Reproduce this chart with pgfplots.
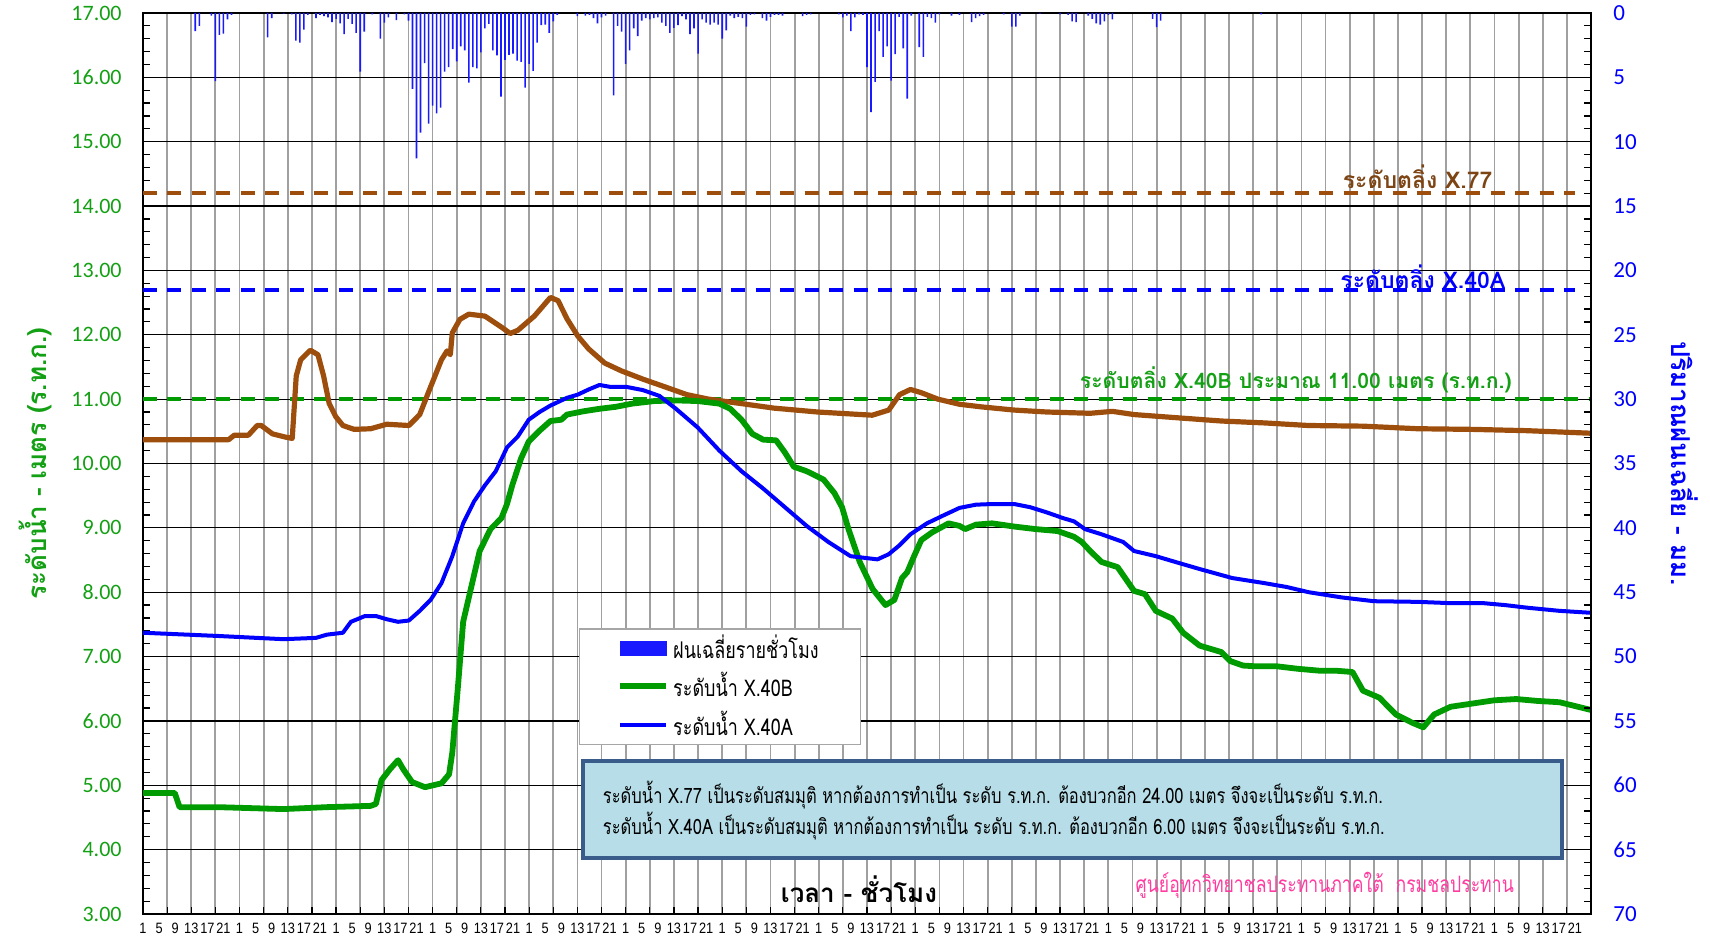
\documentclass[border=0pt]{standalone}
\usepackage{pgfplots}
\usepackage{pgfplotstable}
\pgfplotsset{compat=1.18}
\usepackage{fontspec}
\setmainfont{Carlito}
\newfontfamily\thaifont[Script=Thai]{Loma}
\newfontfamily\thaicond[Script=Thai,FakeStretch=0.78]{Loma}
\newfontfamily\narrowfont[FakeStretch=0.85]{Liberation Sans}
\definecolor{lgreen}{RGB}{0,155,0}
\definecolor{tgreen}{RGB}{20,160,20}
\definecolor{lbrown}{RGB}{158,78,12}
\definecolor{tbrown}{RGB}{125,68,20}
\definecolor{lblue}{RGB}{0,0,255}
\definecolor{rainblue}{RGB}{25,25,255}
\definecolor{pinktxt}{RGB}{255,60,160}
\definecolor{boxfill}{RGB}{183,222,232}
\definecolor{boxedge}{RGB}{58,92,138}
\definecolor{gridgray}{RGB}{160,160,160}

\pgfplotstableread{
h v
0 10.37
21.3 10.37
22.7 10.44
26.2 10.44
28.4 10.59
29.4 10.59
32.2 10.46
35.4 10.41
37.1 10.39
38.1 11.36
39.2 11.61
41.6 11.76
43.5 11.69
44.9 11.36
46.3 10.93
47.9 10.73
49.7 10.59
52.5 10.53
56.6 10.54
60.6 10.61
66.1 10.59
68.8 10.76
71.5 11.19
74.2 11.61
75.6 11.75
76.4 11.69
76.9 12.03
78.8 12.24
81.0 12.32
85.0 12.29
89.1 12.12
91.3 12.02
93.2 12.07
97.3 12.29
101.3 12.58
103.2 12.53
105.4 12.25
108.1 11.98
110.8 11.78
114.8 11.56
118.9 11.44
124.3 11.31
129.8 11.19
135.2 11.07
140.6 11.00
148.8 10.93
156.9 10.86
167.7 10.80
181.3 10.75
185.4 10.83
188.1 11.07
190.8 11.15
193.5 11.10
197.6 11.00
203.0 10.92
208.4 10.88
216.6 10.83
224.7 10.80
235.5 10.78
241.0 10.81
246.4 10.76
257.2 10.71
268.1 10.66
278.9 10.63
289.8 10.59
303.3 10.58
316.9 10.54
330.5 10.53
344.0 10.51
360 10.47
}\tabX

\pgfplotstableread{
h v
0 4.88
7.9 4.88
9.1 4.66
18.6 4.66
34.9 4.63
45.7 4.66
56.6 4.68
57.9 4.71
59.3 5.08
61.4 5.25
63.4 5.39
64.7 5.25
66.9 5.05
70.1 4.97
74.2 5.03
76.1 5.17
76.9 5.51
78.3 6.53
79.6 7.54
81.5 8.05
83.7 8.64
86.4 8.98
89.1 9.15
90.5 9.37
91.8 9.66
94.0 10.08
95.9 10.34
98.6 10.51
101.3 10.66
104.0 10.68
105.4 10.76
109.4 10.81
113.5 10.85
117.5 10.88
121.6 10.93
127.1 10.97
132.5 10.98
137.9 10.97
143.3 10.93
146.0 10.85
148.8 10.68
151.5 10.46
154.2 10.37
157.4 10.36
159.6 10.17
161.8 9.95
165.0 9.88
169.2 9.75
171.9 9.54
173.8 9.32
175.4 8.98
178.2 8.47
181.4 8.05
184.6 7.80
186.8 7.88
188.7 8.22
190.0 8.31
191.7 8.56
193.5 8.81
196.2 8.93
200.3 9.07
203.0 9.03
204.4 8.98
207.1 9.05
211.1 9.07
216.6 9.02
222.0 8.98
227.4 8.95
231.5 8.86
233.4 8.78
235.5 8.64
238.3 8.47
242.3 8.39
246.4 8.02
249.1 7.97
251.8 7.71
255.9 7.59
258.6 7.37
262.7 7.17
268.1 7.07
270.3 6.93
273.5 6.86
276.3 6.85
281.7 6.85
287.1 6.81
292.5 6.78
296.6 6.78
300.7 6.76
303.3 6.47
307.4 6.36
311.5 6.10
315.6 5.97
318.3 5.90
321.0 6.10
325.1 6.22
330.5 6.27
335.9 6.32
341.4 6.34
346.8 6.31
352.2 6.29
360 6.17
}\tabB

\pgfplotstableread{
h v
0 7.37
18.6 7.32
34.9 7.27
43.0 7.29
45.7 7.34
49.7 7.37
51.7 7.54
55.2 7.63
57.9 7.63
60.6 7.58
63.4 7.54
66.1 7.56
68.8 7.71
71.5 7.88
74.2 8.14
76.9 8.56
79.6 9.07
82.3 9.41
85.0 9.66
87.7 9.88
90.5 10.25
93.2 10.42
95.9 10.68
98.6 10.80
101.3 10.90
105.4 11.02
108.1 11.07
110.8 11.15
113.5 11.22
116.2 11.19
120.2 11.19
124.3 11.14
128.4 11.05
132.5 10.85
137.9 10.56
143.3 10.20
148.8 9.88
154.2 9.61
159.6 9.32
165.0 9.03
170.4 8.78
175.9 8.56
179.9 8.53
182.6 8.51
185.4 8.59
188.1 8.73
190.8 8.90
194.9 9.07
198.9 9.19
203.0 9.31
207.1 9.36
211.1 9.37
216.6 9.37
220.6 9.32
224.7 9.24
228.8 9.15
231.5 9.10
234.2 8.98
238.3 8.90
243.7 8.78
246.4 8.64
251.8 8.56
257.2 8.46
262.7 8.36
270.8 8.22
278.9 8.14
284.4 8.08
289.8 8.00
297.9 7.92
306.0 7.86
316.9 7.85
325.0 7.83
333.2 7.83
338.6 7.80
344.0 7.76
352.2 7.71
360 7.68
}\tabA

\pgfplotstableread{
h mm
13 1.4
14 1.0
17 0.2
18 5.3
19 1.7
20 1.6
21 0.5
22 0.15
31 1.9
32 0.4
35 0.05
37 0.1
38 2.15
39 2.3
40 1.3
41 0.15
43 0.4
44 0.15
45 0.25
46 0.35
47 0.7
48 0.45
49 0.8
50 1.65
51 0.45
52 0.85
53 1.55
54 4.55
55 1.45
57 0.1
59 2.0
60 0.75
61 0.35
63 0.55
65 0.1
66 0.6
67 5.9
68 11.3
69 9.3
70 3.9
71 8.6
72 7.2
73 7.8
74 7.35
75 4.55
76 4.2
77 2.8
78 3.75
79 2.6
80 2.9
81 5.4
82 4.2
83 4.3
84 3.05
85 1.2
86 0.85
87 2.9
88 3.3
89 6.5
90 3.65
91 3.25
92 3.15
93 3.7
94 3.8
95 5.8
96 3.95
97 4.5
98 2.3
99 0.95
100 0.9
101 1.55
102 0.65
103 0.15
108 0.25
110 0.2
111 0.15
112 0.4
113 0.8
114 0.35
115 0.2
117 6.4
118 1.0
119 1.45
120 3.95
121 2.9
122 1.2
123 1.8
124 0.6
125 0.4
126 0.5
127 0.4
128 0.35
129 0.75
130 1.0
131 1.55
132 1.15
133 0.95
134 0.25
135 0.5
136 1.65
137 1.2
138 3.15
139 0.5
140 0.75
141 0.9
142 0.75
143 0.9
144 2.0
145 1.35
146 0.2
147 0.4
148 0.3
149 0.4
150 1.05
151 0.15
152 0.1
154 0.4
155 0.6
156 0.3
157 0.15
158 0.15
159 0.2
164 0.25
165 0.15
166 0.1
173 0.1
174 0.35
175 0.2
176 1.4
177 0.35
178 0.1
179 0.15
180 4.2
181 7.7
182 5.35
183 1.4
184 3.4
185 2.6
186 5.25
187 3.2
188 0.3
189 2.75
190 6.65
191 0.2
193 2.65
194 3.4
195 0.3
196 0.4
197 0.75
198 0.1
201 0.2
203 0.15
206 0.7
207 0.4
208 0.25
209 0.15
214 0.1
216 1.05
217 1.05
218 0.2
223 0.05
228 0.1
230 0.15
231 0.65
232 0.7
235 0.2
236 0.45
237 0.8
238 0.9
239 0.65
240 0.15
241 0.5
251 0.45
252 1.1
253 0.6
278 0.1
}\tabRain

\begin{document}
\begin{tikzpicture}
\begin{axis}[
  scale only axis, width=724pt, height=450.5pt,
  xmin=0, xmax=360, ymin=3, ymax=17,
  xtick pos=bottom, ytick pos=left,
  xtick={0,4,...,356},
  xticklabels={1,5,9,13,17,21,1,5,9,13,17,21,1,5,9,13,17,21,1,5,9,13,17,21,1,5,9,13,17,21,1,5,9,13,17,21,1,5,9,13,17,21,1,5,9,13,17,21,1,5,9,13,17,21,1,5,9,13,17,21,1,5,9,13,17,21,1,5,9,13,17,21,1,5,9,13,17,21,1,5,9,13,17,21,1,5,9,13,17,21},
  minor xtick={6,12,...,354},
  xminorgrids=true, ymajorgrids=true,
  minor grid style={gridgray, line width=0.9pt},
  major grid style={black, line width=0.6pt},
  ytick={3,4,...,17},
  minor y tick num=4,
  tick align=inside,
  major tick length=5pt, minor tick length=3.5pt,
  major x tick style={draw=none},
  tick style={black, line width=0.6pt},
  axis line style={black, line width=0.8pt},
  /pgf/number format/assume math mode=true,
  y tick label style={font=\fontsize{11}{13}\selectfont, text=tgreen, inner sep=0pt, xshift=-10.5pt,
    /pgf/number format/fixed, /pgf/number format/fixed zerofill, /pgf/number format/precision=2},
  x tick label style={font=\narrowfont\fontsize{7.5}{9}\selectfont, inner sep=0pt, yshift=-4.5pt},
  ylabel={ระดับน้ำ - เมตร (ร.ท.ก.)},
  ylabel style={at={(axis description cs:-0.074,0.5)}, anchor=center,
    font=\thaifont\bfseries\fontsize{13}{15}\selectfont, text=tgreen},
  legend style={at={(0.301,0.317)}, anchor=north west, draw=gray!70, fill=white, line width=0.6pt,
    font=\thaicond\fontsize{11.5}{13}\selectfont, inner xsep=19pt, inner ysep=1pt, row sep=1.5pt},
  legend cell align=left,
  legend image code/.code={\draw[#1] (0pt,0pt) -- (23pt,0pt);},
  clip=false,
]
\addplot[lbrown, line width=2pt, dash pattern=on 7pt off 5.25pt, forget plot] coordinates {(0,14.2) (356,14.2)};
\addplot[lblue, line width=2pt, dash pattern=on 7pt off 5.25pt, forget plot] coordinates {(0,12.7) (356,12.7)};
\addplot[lgreen, line width=2pt, dash pattern=on 7pt off 5.25pt, forget plot] coordinates {(0,11.0) (360,11.0)};
\addplot[lbrown, line width=2.6pt, line join=round, forget plot] table[x=h,y=v] {\tabX};
\addlegendimage{legend image code/.code={\fill[rainblue] (0pt,-3.5pt) rectangle (23pt,3.5pt);}}
\addlegendentry{ฝนเฉลี่ยรายชั่วโมง}
\addplot[lgreen, line width=2.9pt, line join=round] table[x=h,y=v] {\tabB};
\addlegendentry{ระดับน้ำ X.40B}
\addplot[lblue, line width=2pt, line join=round] table[x=h,y=v] {\tabA};
\addlegendentry{ระดับน้ำ X.40A}
\node[font=\thaifont\bfseries\fontsize{11.5}{14}\selectfont, text=tbrown] at (axis cs:316.9,14.46) {ระดับตลิ่ง X.77};
\node[font=\thaifont\bfseries\fontsize{11.5}{14}\selectfont, text=lblue] at (axis cs:318.2,12.9) {ระดับตลิ่ง X.40A};
\node[font=\thaifont\bfseries\fontsize{10.6}{14}\selectfont, text=tgreen] at (axis cs:286.6,11.3) {ระดับตลิ่ง X.40B ประมาณ 11.00 เมตร (ร.ท.ก.)};
\draw[line width=2.3pt, draw=boxedge, fill=boxfill] (axis cs:109.4,5.38) rectangle (axis cs:352.8,3.87);
\node[anchor=west, font=\thaicond\fontsize{10.6}{13}\selectfont] at (axis cs:112.6,4.85) {ระดับน้ำ X.77 เป็นระดับสมมุติ หากต้องการทำเป็น ระดับ ร.ท.ก. ต้องบวกอีก 24.00 เมตร จึงจะเป็นระดับ ร.ท.ก.};
\node[anchor=west, font=\thaicond\fontsize{10.6}{13}\selectfont] at (axis cs:112.6,4.37) {ระดับน้ำ X.40A เป็นระดับสมมุติ หากต้องการทำเป็น ระดับ ร.ท.ก. ต้องบวกอีก 6.00 เมตร จึงจะเป็นระดับ ร.ท.ก.};
\node[font=\thaifont\bfseries\fontsize{13}{16}\selectfont] at (axis cs:178,3.39) {เวลา - ชั่วโมง};
\node[font=\thaicond\fontsize{11.3}{13}\selectfont, text=pinktxt] at (axis cs:293.8,3.44) {ศูนย์อุทกวิทยาชลประทานภาคใต้\ \ กรมชลประทาน};
\end{axis}
\begin{axis}[
  scale only axis, width=724pt, height=450.5pt,
  xmin=0, xmax=360, ymin=0, ymax=70, y dir=reverse,
  axis y line*=right, axis x line=none,
  ytick={0,5,...,70}, minor y tick num=4,
  tick align=inside,
  major tick length=5pt, minor tick length=3.5pt,
  tick style={black, line width=0.6pt},
  axis line style={black, line width=0.8pt},
  /pgf/number format/assume math mode=true,
  y tick label style={font=\fontsize{11.5}{13}\selectfont, text=lblue, inner sep=0pt, anchor=west, xshift=11pt},
  ylabel={ปริมาณฝนเฉลี่ย - มม.},
  ylabel style={at={(axis description cs:1.065,0.5)}, anchor=center, rotate=180,
    font=\thaifont\bfseries\fontsize{13}{15}\selectfont, text=lblue},
]
\addplot[ybar, bar width=0.8pt, fill=rainblue, draw=none] table[x=h,y=mm] {\tabRain};
\end{axis}
\pgfresetboundingbox
\useasboundingbox (-71.5pt,-13pt) rectangle (783.5pt,457pt);
\end{tikzpicture}
\end{document}
